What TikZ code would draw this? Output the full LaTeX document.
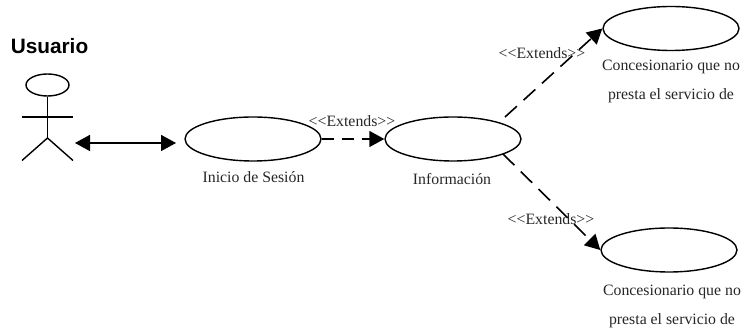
\documentclass[tikz,border=0pt]{standalone}
\usepackage{fontspec}
\setmainfont{Liberation Serif}
\newfontfamily\headfont{Liberation Sans}
\usetikzlibrary{arrows.meta,shapes.geometric,calc}
\definecolor{labelgray}{gray}{0.15}
\tikzset{
  usecase/.style={draw=black,ellipse,line width=1.4pt,inner sep=0pt,minimum width=136pt,minimum height=44pt},
  caption/.style={font=\fontsize{15.8pt}{29pt}\selectfont,text=labelgray,align=center,inner sep=0pt},
  extlabel/.style={font=\fontsize{15.8pt}{18pt}\selectfont,text=labelgray,inner sep=0pt},
  extends/.style={line width=1.6pt,dash pattern=on 16pt off 9pt,-{Triangle[length=15pt,width=16pt]}},
  assoc/.style={line width=1.6pt,{Triangle[length=15pt,width=16pt]}-{Triangle[length=15pt,width=16pt]}},
  actorline/.style={line width=1.4pt}
}
\begin{document}
\begin{tikzpicture}[x=1pt,y=-1pt]
\useasboundingbox (0,0) rectangle (745,328);
% actor
\node[draw=black,ellipse,line width=1.4pt,inner sep=0pt,minimum width=43pt,minimum height=22pt] (head) at (47.5,85) {};
\coordinate (hip) at (47.5,138);
\coordinate (armL) at (22,117);
\coordinate (armR) at (73,117);
\coordinate (legL) at (22,160.5);
\coordinate (legR) at (73,160.5);
\draw[actorline] (head.south) -- (hip);
\draw[actorline] (armL) -- (armR);
\draw[actorline] (legL) -- (hip) -- (legR);
\node[font=\headfont\bfseries\fontsize{20.8pt}{24pt}\selectfont,inner sep=0pt] (usuario) at (49.5,46) {Usuario};
% use cases
\node[usecase] (inicio) at (253,139) {};
\node[usecase] (info) at (453,139) {};
\node[usecase] (top) at (671,28.5) {};
\node[usecase] (bot) at (669,250) {};
% connectors
\coordinate (actorhand) at (75,143);
\coordinate (inicioin) at (176,143);
\coordinate (infoA) at ($(info.center)+(52,-22)$);
\coordinate (infoB) at ($(info.center)+(50,15)$);
\draw[assoc] (actorhand) -- (inicioin);
\draw[line width=1.6pt,dash pattern=on 12pt off 8pt,-{Triangle[length=15pt,width=16pt]}] (inicio.east) -- (info.west);
\draw[extends] (infoA) -- (top.west);
\draw[extends] (infoB) -- (bot.west);
% labels
\node[caption] (t1) at (253.5,177) {Inicio de Sesión};
\node[caption] (t2) at (452,179) {Información};
\node[caption,anchor=center] (t3) at (671,81) {Concesionario que no\\presta el servicio de};
\node[caption,anchor=center] (t4) at (672,306) {Concesionario que no\\presta el servicio de};
\node[extlabel] (e1) at (352,121) {{<}{<}Extends{>}{>}};
\node[extlabel] (e2) at (542,53) {{<}{<}Extends{>}{>}};
\node[extlabel] (e3) at (551,219) {{<}{<}Extends{>}{>}};
\end{tikzpicture}
\end{document}
